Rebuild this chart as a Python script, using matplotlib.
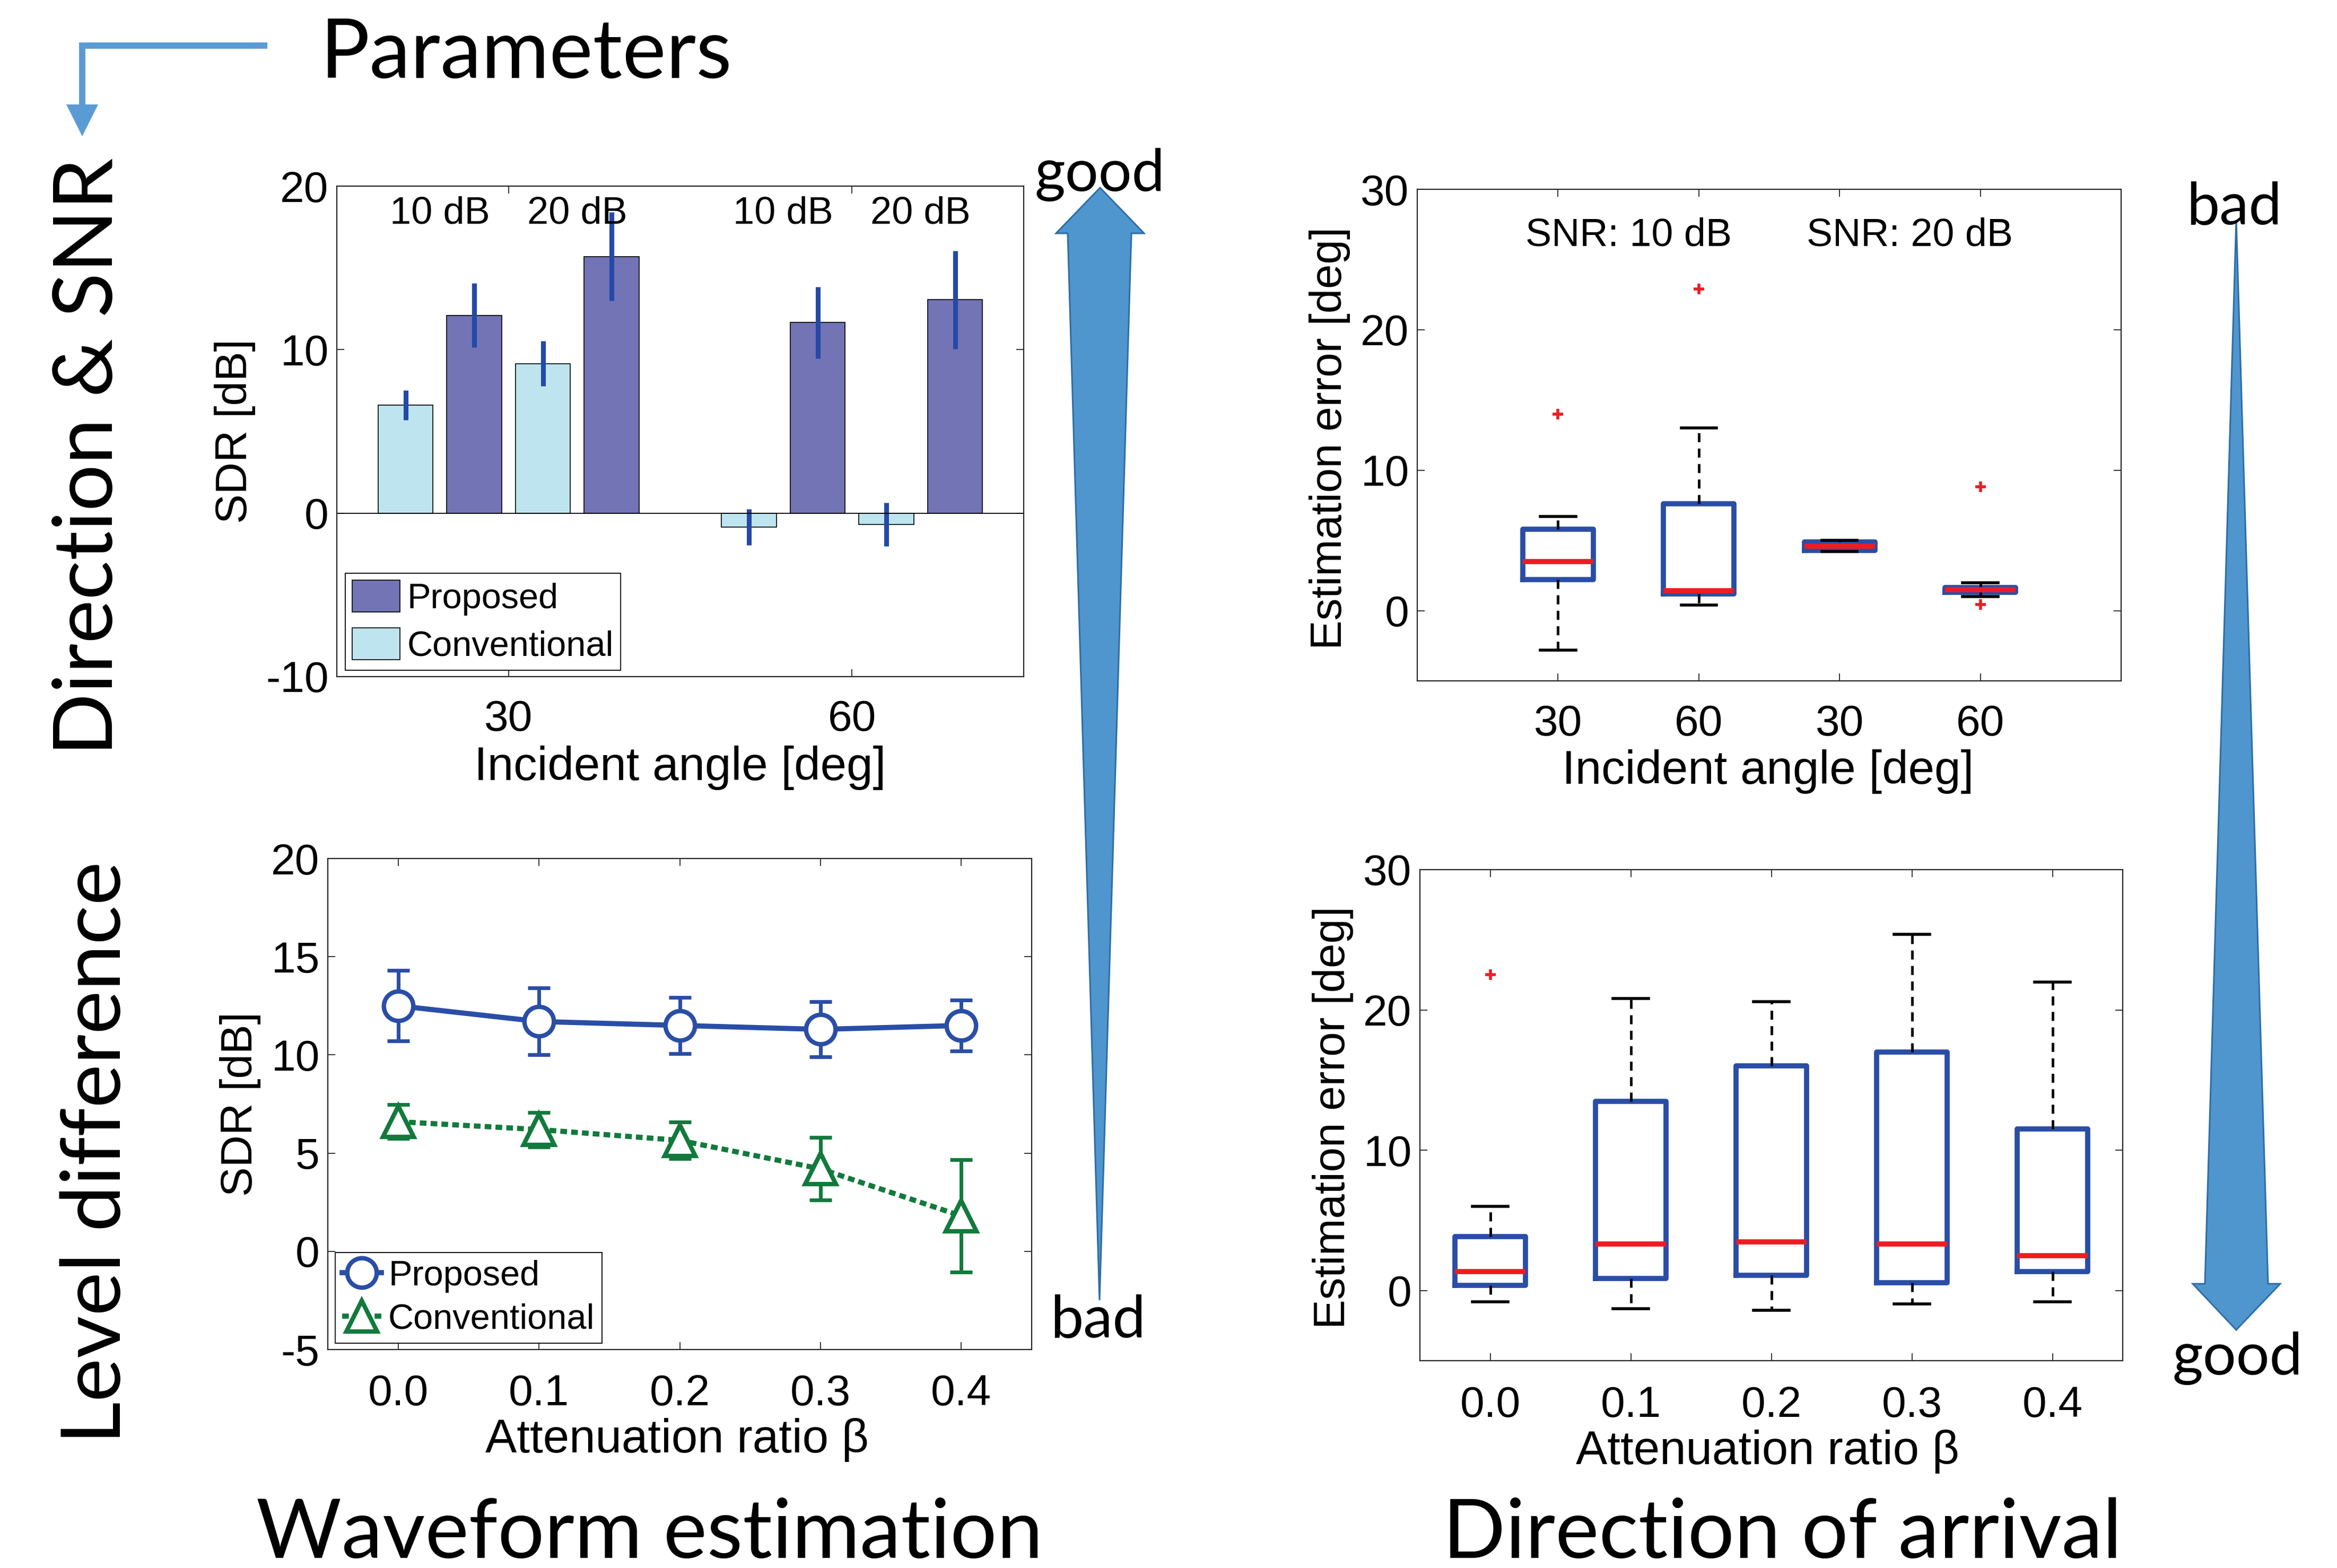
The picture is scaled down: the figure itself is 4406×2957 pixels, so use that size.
import numpy as np
import matplotlib
matplotlib.use('Agg')
import matplotlib.pyplot as plt
from matplotlib.patches import Polygon
from matplotlib.lines import Line2D

# ---- waveform estimation, direction & SNR (bars, mean +- sd)
angles = [30, 60]
snr_tags = ['10 dB', '20 dB']
conv_10 = [6.6, -0.85]
conv_10_sd = [0.9, 1.1]
prop_10 = [12.1, 11.65]
prop_10_sd = [1.95, 2.2]
conv_20 = [9.15, -0.7]
conv_20_sd = [1.38, 1.33]
prop_20 = [15.7, 13.05]
prop_20_sd = [2.7, 3.0]

# ---- waveform estimation, level difference
beta = [0.0, 0.1, 0.2, 0.3, 0.4]
beta_labels = ['0.0', '0.1', '0.2', '0.3', '0.4']
sdr_prop = [12.5, 11.7, 11.5, 11.3, 11.5]
sdr_prop_sd = [1.8, 1.7, 1.43, 1.4, 1.3]
sdr_conv = [6.6, 6.2, 5.65, 4.2, 1.8]
sdr_conv_sd = [0.86, 0.88, 0.93, 1.6, 2.87]

# ---- direction of arrival, direction & SNR (box stats)
doa_angle_labels = ['30', '60', '30', '60']
doa1_med = [3.5, 1.4, 4.6, 1.5]
doa1_q1 = [2.2, 1.2, 4.3, 1.3]
doa1_q3 = [5.8, 7.6, 4.9, 1.65]
doa1_lo = [-2.8, 0.4, 4.2, 1.0]
doa1_hi = [6.7, 13.0, 5.0, 2.0]
doa1_out = [[14.0], [22.9], [], [8.8, 0.45]]

# ---- direction of arrival, level difference
doa2_med = [1.35, 3.3, 3.45, 3.3, 2.5]
doa2_q1 = [0.35, 0.85, 1.1, 0.55, 1.35]
doa2_q3 = [3.85, 13.5, 16.0, 17.0, 11.5]
doa2_lo = [-0.8, -1.3, -1.4, -0.95, -0.8]
doa2_hi = [6.0, 20.8, 20.6, 25.4, 22.0]
doa2_out = [[22.5], [], [], [], []]

W, H = 4406, 2957
fig = plt.figure(figsize=(W / 100, H / 100), dpi=100)
ml_font = ['Liberation Sans', 'DejaVu Sans']
ppt_font = ['Lato', 'DejaVu Sans']
plt.rcParams['font.family'] = ml_font
plt.rcParams['axes.unicode_minus'] = False

blue = '#2A4EA6'
green = '#127A3C'
red = '#ED1C24'
c_prop = '#7274B6'
c_conv = '#BEE5EF'
arrow_fill = '#4F96CF'
arrow_edge = '#2F6EA6'


def px_axes(l, t, r, b):
    return fig.add_axes([l / W, 1 - b / H, (r - l) / W, (b - t) / H])


def fpt(x, y):
    return (x / W, 1 - y / H)


def matlab_look(ax, xpad=32):
    for s in ax.spines.values():
        s.set_color('#262626')
        s.set_linewidth(1.6)
    ax.tick_params(direction='in', top=True, right=True, length=10, width=1.3,
                   color='#262626', labelsize=59)
    ax.tick_params(axis='x', pad=xpad)
    ax.tick_params(axis='y', pad=11)


# ======== top left: bars
ax1 = px_axes(635, 351, 1930, 1276)
offs = [-9, -3, 3, 9]
series = [(conv_10, conv_10_sd, c_conv), (prop_10, prop_10_sd, c_prop),
          (conv_20, conv_20_sd, c_conv), (prop_20, prop_20_sd, c_prop)]
handles = []
for (vals, sds, col), off in zip(series, offs):
    xs = np.array(angles) + off
    h = ax1.bar(xs, vals, width=4.8, color=col, edgecolor='k', linewidth=1.2)
    handles.append(h)
    ax1.errorbar(xs, vals, yerr=sds, fmt='none', ecolor='#2449A6', elinewidth=6.5, capsize=0)
ax1.axhline(0, color='k', lw=1.3)
for a in angles:
    for tag, off in zip(snr_tags, [-6, 6]):
        ax1.text(a + off, 18.3, tag, ha='center', va='center', fontsize=52)
ax1.set_xlim(15, 75)
ax1.set_ylim(-10, 20)
ax1.set_xticks(angles)
ax1.set_yticks([-10, 0, 10, 20])
matlab_look(ax1, 31)
ax1.set_ylabel('SDR [dB]', fontsize=60)
ax1.set_xlabel('Incident angle [deg]', fontsize=64)
ax1.yaxis.set_label_coords(-0.118, 0.5)
ax1.xaxis.set_label_coords(0.5, -0.141)
lg = ax1.legend([handles[1], handles[0]], ['Proposed', 'Conventional'], loc='lower left',
                bbox_to_anchor=(0.012, 0.013), borderaxespad=0, fontsize=48, fancybox=False,
                edgecolor='k', framealpha=1, handlelength=1.35, handleheight=1.0,
                handletextpad=0.2, borderpad=0.2, labelspacing=0.35)
lg.get_frame().set_linewidth(1.3)

# ======== bottom left: lines
ax2 = px_axes(618, 1619, 1945, 2545)
ax2.errorbar(beta, sdr_prop, yerr=sdr_prop_sd, fmt='none', ecolor=blue, elinewidth=5,
             capsize=15, capthick=5)
ax2.errorbar(beta, sdr_conv, yerr=sdr_conv_sd, fmt='none', ecolor=green, elinewidth=5,
             capsize=15, capthick=5)
lp, = ax2.plot(beta, sdr_prop, '-o', color=blue, lw=7, ms=40, mfc='w', mew=6)
lc, = ax2.plot(beta, sdr_conv, '--^', color=green, lw=7, ms=42, mfc='w', mew=6,
               dashes=(1.3, 0.8))
ax2.set_xlim(-0.05, 0.45)
ax2.set_ylim(-5, 20)
ax2.set_xticks(beta)
ax2.set_xticklabels(beta_labels)
ax2.set_yticks([-5, 0, 5, 10, 15, 20])
matlab_look(ax2, 33)
ax2.set_ylabel('SDR [dB]', fontsize=60)
ax2.set_xlabel('Attenuation ratio β', fontsize=64)
ax2.yaxis.set_label_coords(-0.095, 0.5)
ax2.xaxis.set_label_coords(0.496, -0.139)
lg2 = ax2.legend([lp, lc], ['Proposed', 'Conventional'], loc='lower left',
                 bbox_to_anchor=(0.0106, 0.013), borderaxespad=0, fontsize=48, fancybox=False,
                 edgecolor='k', framealpha=1, handlelength=1.1, numpoints=1,
                 handletextpad=0.2, borderpad=0.2, labelspacing=0.3)
lg2.get_frame().set_linewidth(1.3)

# ======== box plots
box_kw = dict(widths=0.5, capwidths=0.25, manage_ticks=False,
              boxprops=dict(color=blue, lw=7),
              medianprops=dict(color=red, lw=7),
              whiskerprops=dict(color='k', lw=3.5, linestyle=(0, (3.5, 2.5))),
              capprops=dict(color='k', lw=4),
              flierprops=dict(marker='+', markeredgecolor=red, markersize=15, mew=4))


def box_stats(med, q1, q3, lo, hi, out):
    return [dict(med=m, q1=a, q3=b, whislo=l, whishi=h, fliers=f)
            for m, a, b, l, h, f in zip(med, q1, q3, lo, hi, out)]


ax3 = px_axes(2672, 357, 3999, 1284)
pos3 = np.arange(1, len(doa1_med) + 1)
ax3.bxp(box_stats(doa1_med, doa1_q1, doa1_q3, doa1_lo, doa1_hi, doa1_out), positions=pos3, **box_kw)
ax3.text(1.5, 26.7, 'SNR: 10 dB', ha='center', va='center', fontsize=53)
ax3.text(3.5, 26.7, 'SNR: 20 dB', ha='center', va='center', fontsize=53)
ax3.set_xlim(0, 5)
ax3.set_ylim(-5, 30)
ax3.set_xticks(pos3)
ax3.set_xticklabels(doa_angle_labels)
ax3.set_yticks([0, 10, 20, 30])
matlab_look(ax3, 32)
ax3.set_ylabel('Estimation error [deg]', fontsize=60)
ax3.set_xlabel('Incident angle [deg]', fontsize=64)
ax3.yaxis.set_label_coords(-0.095, 0.494)
ax3.xaxis.set_label_coords(0.498, -0.139)

ax4 = px_axes(2677, 1640, 4002, 2566)
pos4 = np.arange(1, len(doa2_med) + 1)
ax4.bxp(box_stats(doa2_med, doa2_q1, doa2_q3, doa2_lo, doa2_hi, doa2_out), positions=pos4, **box_kw)
ax4.set_xlim(0.5, 5.5)
ax4.set_ylim(-5, 30)
ax4.set_xticks(pos4)
ax4.set_xticklabels(beta_labels)
ax4.set_yticks([0, 10, 20, 30])
matlab_look(ax4, 34)
ax4.set_ylabel('Estimation error [deg]', fontsize=60)
ax4.set_xlabel('Attenuation ratio β', fontsize=64)
ax4.yaxis.set_label_coords(-0.094, 0.495)
ax4.xaxis.set_label_coords(0.495, -0.140)

# ======== slide decorations
pcol = '#5B9BD5'
fig.add_artist(Line2D([504 / W, 155 / W, 155 / W], [fpt(0, 86)[1], fpt(0, 86)[1], fpt(0, 200)[1]],
                      transform=fig.transFigure, color=pcol, lw=8.5,
                      solid_joinstyle='miter', solid_capstyle='butt'))
fig.add_artist(Polygon([fpt(125, 197), fpt(185, 197), fpt(155, 257)], closed=True,
                       transform=fig.transFigure, fc=pcol, ec='none'))

up_arrow = [fpt(2074, 354), fpt(2157, 440), fpt(2133, 440), fpt(2073, 2452),
            fpt(2013, 440), fpt(1991, 440)]
down_arrow = [fpt(4216, 415), fpt(4276, 2421), fpt(4299, 2421), fpt(4216, 2508),
              fpt(4134, 2421), fpt(4157, 2421)]
for pts in (up_arrow, down_arrow):
    fig.add_artist(Polygon(pts, closed=True, transform=fig.transFigure,
                           fc=arrow_fill, ec=arrow_edge, lw=2.2))

big = 112
fig.text(*fpt(604, 147), 'Parameters', fontsize=big, family=ppt_font, ha='left', va='baseline')
fig.text(*fpt(212, 861), 'Direction & SNR', fontsize=big, family=ppt_font, rotation=90,
         rotation_mode='anchor', ha='center', va='baseline')
fig.text(*fpt(227, 2174), 'Level difference', fontsize=big, family=ppt_font, rotation=90,
         rotation_mode='anchor', ha='center', va='baseline')
fig.text(*fpt(1225, 2938), 'Waveform estimation', fontsize=big, family=ppt_font,
         ha='center', va='baseline')
fig.text(*fpt(3360, 2938), 'Direction of arrival', fontsize=big, family=ppt_font,
         ha='center', va='baseline')
small = 80
fig.text(*fpt(2073, 360), 'good', fontsize=small, family=ppt_font, ha='center', va='baseline')
fig.text(*fpt(2070, 2521), 'bad', fontsize=small, family=ppt_font, ha='center', va='baseline')
fig.text(*fpt(4212, 422), 'bad', fontsize=small, family=ppt_font, ha='center', va='baseline')
fig.text(*fpt(4218, 2592), 'good', fontsize=small, family=ppt_font, ha='center', va='baseline')

fig.savefig('out.png', dpi=100)
